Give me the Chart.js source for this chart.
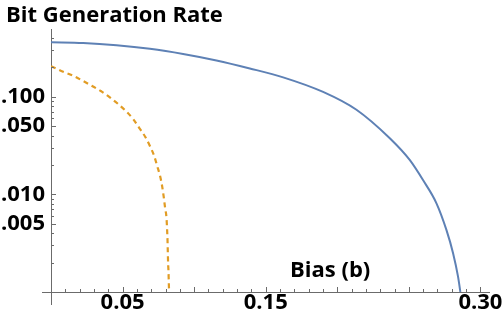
<!DOCTYPE html>
<html>
<head>
<meta charset="utf-8">
<script src="https://cdn.jsdelivr.net/npm/chart.js@4.4.1/dist/chart.umd.min.js"></script>
<style>
  html, body { margin: 0; padding: 0; background: #fff; }
  #wrap { width: 504px; height: 319px; position: relative; }
</style>
</head>
<body>
<div id="wrap"><canvas id="chart"></canvas></div>
<script>
const titleText = "Bit Generation Rate";
const xLabelText = "Bias (b)";

// solid curve
const blueX = [0, 0.0225, 0.0458, 0.0691, 0.0923, 0.1156, 0.1389, 0.1622, 0.1901, 0.2134, 0.2367, 0.2506, 0.2599, 0.2693, 0.2763, 0.2809, 0.2844, 0.286];
const blueY = [0.361, 0.355, 0.337, 0.31, 0.2745, 0.2355, 0.195, 0.158, 0.112, 0.0735, 0.0375, 0.0225, 0.014, 0.0081, 0.0043, 0.0025, 0.00143, 0.001];

// dashed curve
const orangeX = [0, 0.0085, 0.0155, 0.0221, 0.0284, 0.0348, 0.0411, 0.0469, 0.0523, 0.0574, 0.0616, 0.0658, 0.0691, 0.0721, 0.0742, 0.0763, 0.0777, 0.0788, 0.0797, 0.0807, 0.0811, 0.0814, 0.0816, 0.0818, 0.0821, 0.0823, 0.0825];
const orangeY = [0.205, 0.1804, 0.1641, 0.1458, 0.1296, 0.1144, 0.0986, 0.0842, 0.0714, 0.0591, 0.0481, 0.0389, 0.0313, 0.0247, 0.0195, 0.0152, 0.012, 0.0093, 0.0073, 0.0057, 0.0044, 0.0034, 0.0026, 0.002, 0.0016, 0.00124, 0.001];

const xTicks = [0.05, 0.15, 0.30];
const yTicks = [0.005, 0.01, 0.05, 0.1];

const FONT = "'Open Sans'";
const FONT_SIZE = 22;
const AXIS_COLOR = "#6b6b6b";

function pts(xs, ys) {
  return xs.map((x, i) => ({ x: x, y: ys[i] }));
}

// mathematica-style inward ticks, extended axes, title and axis label
const decorPlugin = {
  id: "decor",
  afterDraw(chart) {
    const ctx = chart.ctx;
    const xs = chart.scales.x;
    const ys = chart.scales.y;
    const x0 = xs.getPixelForValue(0);
    const yb = ys.bottom;

    ctx.save();
    ctx.strokeStyle = AXIS_COLOR;
    ctx.lineWidth = 1;
    ctx.beginPath();
    // axis extensions past the crossing
    ctx.moveTo(42, yb + 0.5); ctx.lineTo(x0, yb + 0.5);
    ctx.moveTo(x0 + 0.5, yb); ctx.lineTo(x0 + 0.5, yb + 13);

    // x ticks every 0.01
    for (let i = 1; i <= 30; i++) {
      const px = Math.round(xs.getPixelForValue(i / 100)) + 0.5;
      const len = i % 5 === 0 ? 5 : 3;
      ctx.moveTo(px, yb); ctx.lineTo(px, yb - len);
    }
    // y log ticks
    [0.001, 0.01, 0.1].forEach(d => {
      for (let m = 1; m <= 9; m++) {
        const v = d * m;
        if (v > ys.max) continue;
        const py = Math.round(ys.getPixelForValue(v)) + 0.5;
        const len = (m === 1 || m === 5) ? 5 : 3;
        ctx.moveTo(x0, py); ctx.lineTo(x0 + len, py);
      }
    });
    ctx.stroke();

    ctx.fillStyle = "#000";
    ctx.font = "bold " + FONT_SIZE + "px " + FONT;
    ctx.textAlign = "left";
    ctx.textBaseline = "alphabetic";
    ctx.fillText(titleText, 6, 22);
    ctx.fillText(xLabelText, 290, 277);
    ctx.restore();
  }
};

new Chart(document.getElementById("chart"), {
  type: "scatter",
  data: {
    datasets: [
      {
        data: pts(blueX, blueY),
        showLine: true,
        borderColor: "#5E81B5",
        borderWidth: 2,
        pointRadius: 0,
        cubicInterpolationMode: "monotone"
      },
      {
        data: pts(orangeX, orangeY),
        showLine: true,
        borderColor: "#E19C24",
        borderWidth: 2.2,
        borderDash: [5, 4],
        pointRadius: 0,
        cubicInterpolationMode: "monotone"
      }
    ]
  },
  options: {
    responsive: true,
    maintainAspectRatio: false,
    animation: false,
    layout: { padding: { top: 29, right: 15, left: 0, bottom: 0 } },
    plugins: { legend: { display: false }, tooltip: { enabled: false } },
    scales: {
      x: {
        type: "linear",
        min: 0,
        max: 0.306,
        grid: { display: false, drawTicks: false },
        border: { display: true, color: AXIS_COLOR, width: 1 },
        afterBuildTicks: s => { s.ticks = xTicks.map(v => ({ value: v })); },
        afterFit: s => { s.height = 27; },
        ticks: {
          color: "#000",
          padding: -2,
          maxRotation: 0,
          autoSkip: false,
          font: { family: FONT, size: FONT_SIZE, weight: "bold" },
          callback: v => v.toFixed(2)
        }
      },
      y: {
        type: "logarithmic",
        min: 0.001,
        max: 0.494,
        grid: { display: false, drawTicks: false },
        border: { display: true, color: AXIS_COLOR, width: 1 },
        afterBuildTicks: s => { s.ticks = yTicks.map(v => ({ value: v })); },
        afterFit: s => { s.width = 51; },
        ticks: {
          color: "#000",
          padding: 6,
          autoSkip: false,
          font: { family: FONT, size: FONT_SIZE, weight: "bold" },
          callback: v => v.toFixed(3).replace(/^0/, "")
        }
      }
    }
  },
  plugins: [decorPlugin]
});
</script>
</body>
</html>
